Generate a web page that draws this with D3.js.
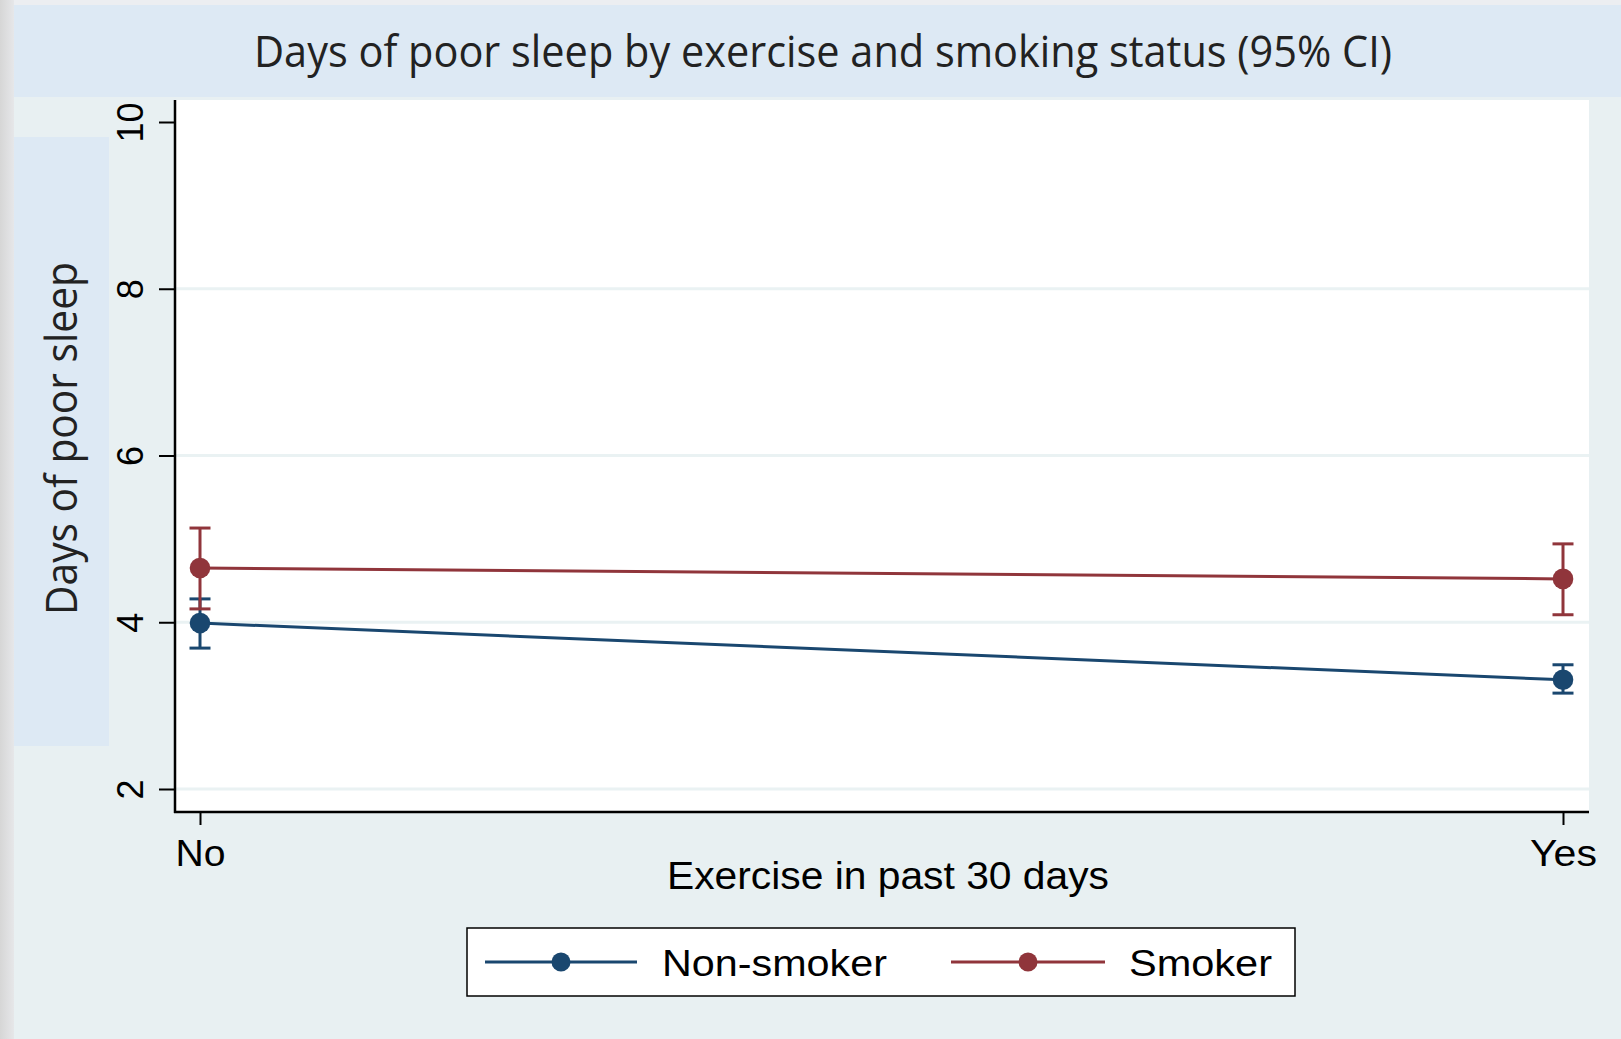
<!DOCTYPE html>
<html>
<head>
<meta charset="utf-8">
<script src="https://cdn.jsdelivr.net/npm/d3@7"></script>
<style>
  html, body { margin: 0; padding: 0; background: #e8f0f2; }
  svg { display: block; }
</style>
</head>
<body>
<svg id="chart" width="1621" height="1039"></svg>
<script>
// ---- data ----
const exercise = ["No", "Yes"];
const nonSmokerMean = [3.99, 3.31];
const nonSmokerLo   = [3.69, 3.15];
const nonSmokerHi   = [4.28, 3.49];
const smokerMean = [4.65, 4.52];
const smokerLo   = [4.16, 4.09];
const smokerHi   = [5.13, 4.94];
const yTicks = [2, 4, 6, 8, 10];
const gridTicks = [2, 4, 6, 8];
const seriesNames = ["Non-smoker", "Smoker"];
const titleText = "Days of poor sleep by exercise and smoking status (95% CI)";
const xTitle = "Exercise in past 30 days";
const yTitle = "Days of poor sleep";

// ---- layout ----
const W = 1621, H = 1039;
const plot = { left: 175, right: 1589, top: 100, bottom: 812 };
const navy = "#1a476f", maroon = "#90353b";

const svg = d3.select("#chart");
const defs = svg.append("defs");
const grad = defs.append("linearGradient").attr("id", "edge").attr("x1", 0).attr("x2", 1).attr("y1", 0).attr("y2", 0);
grad.append("stop").attr("offset", "0%").attr("stop-color", "#d6d6d6");
grad.append("stop").attr("offset", "100%").attr("stop-color", "#e6e7e9");

// backgrounds
svg.append("rect").attr("x", 0).attr("y", 0).attr("width", W).attr("height", H).attr("fill", "#e8f0f2");
svg.append("rect").attr("x", 0).attr("y", 0).attr("width", W).attr("height", 5).attr("fill", "#eceef1");
svg.append("rect").attr("x", 0).attr("y", 0).attr("width", 14).attr("height", H).attr("fill", "url(#edge)");
svg.append("rect").attr("x", 14).attr("y", 5).attr("width", W - 14).attr("height", 92).attr("fill", "#dde9f4");
svg.append("rect").attr("x", 14).attr("y", 137).attr("width", 95).attr("height", 609).attr("fill", "#dde9f4");
svg.append("rect").attr("x", plot.left).attr("y", plot.top)
  .attr("width", plot.right - plot.left).attr("height", plot.bottom - plot.top).attr("fill", "#ffffff");

// scales
const x = d3.scalePoint().domain(exercise).range([200, 1563]);
const y = d3.scaleLinear().domain([2, 10]).range([789, 122]);

// gridlines
svg.append("g").selectAll("line").data(gridTicks).join("line")
  .attr("x1", plot.left + 1).attr("x2", plot.right)
  .attr("y1", d => y(d)).attr("y2", d => y(d))
  .attr("stroke", "#eaf2f3").attr("stroke-width", 3);

// y axis
const gy = svg.append("g").attr("transform", `translate(${plot.left},0)`)
  .call(d3.axisLeft(y).tickValues(yTicks).tickSize(16).tickFormat(d3.format("d")));
gy.select(".domain").remove();
gy.selectAll(".tick line").attr("stroke", "#000").attr("stroke-width", 2);
gy.selectAll(".tick text")
  .attr("x", null).attr("dy", null).attr("y", 0)
  .attr("transform", "translate(-32,0) rotate(-90)")
  .attr("text-anchor", "middle")
  .attr("font-family", "Liberation Sans, Arial, sans-serif")
  .attr("font-size", 36).attr("fill", "#000");
svg.append("line").attr("x1", plot.left).attr("x2", plot.left)
  .attr("y1", plot.top).attr("y2", plot.bottom + 1)
  .attr("stroke", "#000").attr("stroke-width", 2.5);

// x axis
const gx = svg.append("g").attr("transform", `translate(0,${plot.bottom})`)
  .call(d3.axisBottom(x).tickSize(13));
gx.select(".domain").remove();
gx.selectAll(".tick line").attr("stroke", "#000").attr("stroke-width", 2);
const xLabelLen = { "No": 50, "Yes": 67 };
gx.selectAll(".tick text")
  .attr("y", 54).attr("dy", null)
  .attr("font-family", "Liberation Sans, Arial, sans-serif")
  .attr("font-size", 36).attr("fill", "#000")
  .attr("textLength", d => xLabelLen[d]).attr("lengthAdjust", "spacingAndGlyphs");
svg.append("line").attr("x1", plot.left - 1).attr("x2", plot.right)
  .attr("y1", plot.bottom).attr("y2", plot.bottom)
  .attr("stroke", "#000").attr("stroke-width", 2.5);

// series
const series = [
  { name: seriesNames[0], mean: nonSmokerMean, lo: nonSmokerLo, hi: nonSmokerHi, color: navy },
  { name: seriesNames[1], mean: smokerMean, lo: smokerLo, hi: smokerHi, color: maroon }
];
const capHalf = 10.5;
series.forEach(s => {
  const g = svg.append("g");
  const idx = exercise.map((e, i) => i);
  g.selectAll("line.v").data(idx).join("line").attr("class", "v")
    .attr("x1", i => x(exercise[i])).attr("x2", i => x(exercise[i]))
    .attr("y1", i => y(s.lo[i])).attr("y2", i => y(s.hi[i]))
    .attr("stroke", s.color).attr("stroke-width", 3);
  g.selectAll("line.ch").data(idx).join("line").attr("class", "ch")
    .attr("x1", i => x(exercise[i]) - capHalf).attr("x2", i => x(exercise[i]) + capHalf)
    .attr("y1", i => y(s.hi[i])).attr("y2", i => y(s.hi[i]))
    .attr("stroke", s.color).attr("stroke-width", 3);
  g.selectAll("line.cl").data(idx).join("line").attr("class", "cl")
    .attr("x1", i => x(exercise[i]) - capHalf).attr("x2", i => x(exercise[i]) + capHalf)
    .attr("y1", i => y(s.lo[i])).attr("y2", i => y(s.lo[i]))
    .attr("stroke", s.color).attr("stroke-width", 3);
});
series.forEach(s => {
  const pts = exercise.map((e, i) => [x(e), y(s.mean[i])]);
  svg.append("path").attr("d", d3.line()(pts))
    .attr("fill", "none").attr("stroke", s.color).attr("stroke-width", 3);
  svg.append("g").selectAll("circle").data(pts).join("circle")
    .attr("cx", d => d[0]).attr("cy", d => d[1]).attr("r", 10.3).attr("fill", s.color);
});

// title
svg.append("text").attr("x", 823).attr("y", 67).attr("text-anchor", "middle")
  .attr("font-family", "Open Sans, Noto Sans, sans-serif").attr("font-size", 44)
  .attr("fill", "#222").attr("textLength", 1138).attr("lengthAdjust", "spacingAndGlyphs")
  .text(titleText);

// y title
svg.append("text").attr("transform", "translate(77,438.5) rotate(-90)").attr("text-anchor", "middle")
  .attr("font-family", "Open Sans, Noto Sans, sans-serif").attr("font-size", 43)
  .attr("fill", "#222").attr("textLength", 353).attr("lengthAdjust", "spacingAndGlyphs")
  .text(yTitle);

// x title
svg.append("text").attr("x", 888).attr("y", 889).attr("text-anchor", "middle")
  .attr("font-family", "Liberation Sans, Arial, sans-serif").attr("font-size", 38)
  .attr("fill", "#000").attr("textLength", 442).attr("lengthAdjust", "spacingAndGlyphs")
  .text(xTitle);

// legend
const lg = svg.append("g");
lg.append("rect").attr("x", 467).attr("y", 928).attr("width", 828).attr("height", 68)
  .attr("fill", "#fff").attr("stroke", "#000").attr("stroke-width", 1.5);
const legendItems = [
  { s: series[0], x0: 485, x1: 637, tx: 662, tl: 225 },
  { s: series[1], x0: 951, x1: 1105, tx: 1129, tl: 143 }
];
legendItems.forEach(it => {
  lg.append("line").attr("x1", it.x0).attr("x2", it.x1).attr("y1", 962).attr("y2", 962)
    .attr("stroke", it.s.color).attr("stroke-width", 3);
  lg.append("circle").attr("cx", (it.x0 + it.x1) / 2).attr("cy", 962).attr("r", 9.5).attr("fill", it.s.color);
  lg.append("text").attr("x", it.tx).attr("y", 976)
    .attr("font-family", "Liberation Sans, Arial, sans-serif").attr("font-size", 37)
    .attr("fill", "#000").attr("textLength", it.tl).attr("lengthAdjust", "spacingAndGlyphs")
    .text(it.s.name);
});
</script>
</body>
</html>
